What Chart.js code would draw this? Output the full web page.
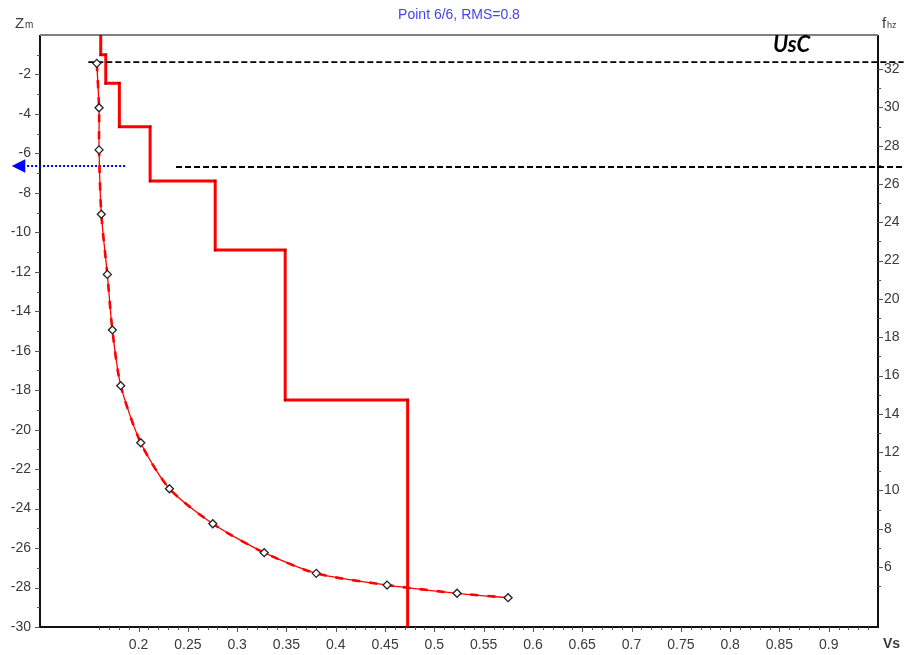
<!DOCTYPE html>
<html>
<head>
<meta charset="utf-8">
<script src="https://cdn.jsdelivr.net/npm/chart.js@4.4.1/dist/chart.umd.min.js"></script>
<style>
  html, body { margin: 0; padding: 0; background: #fff; }
  canvas { display: block; }
</style>
</head>
<body>
<canvas id="c" width="905" height="655"></canvas>
<script>
// dispersion curve: phase velocity (Vs) against frequency (right axis)
const curveVs   = [0.1576, 0.1599, 0.1599, 0.1622, 0.1683, 0.1734, 0.1819, 0.2022, 0.2313, 0.2753, 0.3274, 0.3802, 0.4520, 0.5230, 0.5748];
const curveFreq = [32.30, 29.98, 27.78, 24.42, 21.28, 18.38, 15.47, 12.49, 10.09, 8.26, 6.75, 5.67, 5.06, 4.63, 4.40];

// layered Vs profile (left axis, depth in m)
const layerVs     = [0.1616, 0.1667, 0.1805, 0.2117, 0.2777, 0.3487, 0.4729];
const layerBottom = [-1.0, -2.45, -4.65, -7.4, -10.9, -18.5, -30];

// reference lines
const usLineDepth = -1.37;
const usLineVs = [0.149, 0.976];
const lowLineDepth = -6.69;
const lowLineVs = [0.238, 0.976];
const arrowDepth = -6.64;
const arrowVs = [0.1863, 0.0805];

// tick labels
const xTickLabels = [0.2, 0.25, 0.3, 0.35, 0.4, 0.45, 0.5, 0.55, 0.6, 0.65, 0.7, 0.75, 0.8, 0.85, 0.9];
const depthTickLabels = [-2, -4, -6, -8, -10, -12, -14, -16, -18, -20, -22, -24, -26, -28, -30];
const freqTickLabels = [6, 8, 10, 12, 14, 16, 18, 20, 22, 24, 26, 28, 30, 32];

const FONT = "'Liberation Sans', Arial, sans-serif";
const TXT = '#3a3a3a';

// build step points
const stepPts = [{ x: layerVs[0], y: 0 }];
layerVs.forEach((v, i) => {
  stepPts.push({ x: v, y: layerBottom[i] });
  if (i + 1 < layerVs.length) stepPts.push({ x: layerVs[i + 1], y: layerBottom[i] });
});
const curvePts = curveVs.map((v, i) => ({ x: v, y: curveFreq[i] }));

const hasLabel = (list, v) => list.some(t => Math.abs(t - v) < 1e-6);
const range = (a, b) => { const r = []; for (let i = a; i <= b; i++) r.push(i); return r; };

const tickMarks = {
  id: 'tickMarks',
  beforeDatasetsDraw(chart) {
    const { ctx, chartArea: a } = chart;
    ctx.save();
    ctx.strokeStyle = '#111';
    ctx.lineWidth = 2;
    ctx.beginPath();
    ctx.moveTo(a.left, a.top); ctx.lineTo(a.left, a.bottom); ctx.lineTo(a.right, a.bottom); ctx.lineTo(a.right, a.top);
    ctx.stroke();
    ctx.strokeStyle = '#808080';
    ctx.beginPath(); ctx.moveTo(a.left, a.top); ctx.lineTo(a.right, a.top); ctx.stroke();
    ctx.restore();
  },
  afterDraw(chart) {
    const { ctx, chartArea: a } = chart;
    ctx.save();
    ctx.strokeStyle = '#555';
    ctx.lineWidth = 1;
    const x = chart.scales.x, y = chart.scales.y, y1 = chart.scales.y1;
    x.ticks.forEach(t => {
      const p = Math.round(x.getPixelForValue(t.value)) + 0.5;
      const len = hasLabel(xTickLabels, t.value) ? 5 : 3;
      ctx.beginPath(); ctx.moveTo(p, a.bottom); ctx.lineTo(p, a.bottom + len); ctx.stroke();
    });
    y.ticks.forEach(t => {
      const p = Math.round(y.getPixelForValue(t.value)) + 0.5;
      const len = hasLabel(depthTickLabels, t.value) ? 5 : 3;
      ctx.beginPath(); ctx.moveTo(a.left - len, p); ctx.lineTo(a.left, p); ctx.stroke();
    });
    y1.ticks.forEach(t => {
      const p = Math.round(y1.getPixelForValue(t.value)) + 0.5;
      const len = hasLabel(freqTickLabels, t.value) ? 5 : 3;
      ctx.beginPath(); ctx.moveTo(a.right, p); ctx.lineTo(a.right + len, p); ctx.stroke();
    });

    // arrow head at the end of the blue dotted line
    const tipX = x.getPixelForValue(arrowVs[1]);
    const ay = y.getPixelForValue(arrowDepth);
    const r = 9;
    ctx.fillStyle = '#0000ff';
    ctx.beginPath();
    ctx.moveTo(tipX - r, ay);
    ctx.lineTo(tipX + r * 0.5, ay - r * 0.75);
    ctx.lineTo(tipX + r * 0.5, ay + r * 0.75);
    ctx.closePath();
    ctx.fill();

    // texts
    ctx.fillStyle = '#4444ee';
    ctx.font = '14px ' + FONT;
    ctx.textAlign = 'center';
    ctx.textBaseline = 'middle';
    ctx.fillText('Point 6/6, RMS=0.8', (a.left + a.right) / 2, 15);

    ctx.fillStyle = TXT;
    ctx.textAlign = 'left';
    ctx.textBaseline = 'alphabetic';
    ctx.font = '15px ' + FONT;
    ctx.fillText('Z', 15, 28);
    ctx.font = '10px ' + FONT;
    ctx.fillText('m', 25, 28);
    ctx.font = '15px ' + FONT;
    ctx.fillText('f', 882, 28);
    ctx.font = '9px ' + FONT;
    ctx.fillText('hz', 887, 28);
    ctx.font = 'bold 14px ' + FONT;
    ctx.fillText('Vs', 883, 648);

    ctx.fillStyle = '#000';
    ctx.font = "italic bold 22px Lato, 'Open Sans', sans-serif";
    ctx.fillText('UsC', 773, 52);
    ctx.restore();
  }
};

const chart = new Chart(document.getElementById('c'), {
  type: 'scatter',
  data: {
    datasets: [
      {
        data: curvePts, yAxisID: 'y1', showLine: true, order: 0,
        borderColor: '#ff0000', borderWidth: 1.3, tension: 0.25,
        pointStyle: 'rectRot', pointRadius: 4, pointBorderColor: '#222',
        pointBackgroundColor: '#fff', pointBorderWidth: 1.3
      },
      {
        data: curvePts, yAxisID: 'y1', showLine: true, order: 1,
        borderColor: '#ff0000', borderWidth: 2.6, borderDash: [8, 9], tension: 0.25,
        pointRadius: 0
      },
      {
        data: stepPts, yAxisID: 'y', showLine: true, order: 3,
        borderColor: '#ff0000', borderWidth: 3, tension: 0,
        pointStyle: 'rect', pointRadius: 1.6, pointBackgroundColor: '#a00000', pointBorderWidth: 0
      },
      {
        data: usLineVs.map(v => ({ x: v, y: usLineDepth })), yAxisID: 'y', showLine: true, order: 2,
        borderColor: '#000', borderWidth: 1.8, borderDash: [6, 3], pointRadius: 0, clip: false
      },
      {
        data: lowLineVs.map(v => ({ x: v, y: lowLineDepth })), yAxisID: 'y', showLine: true, order: 2,
        borderColor: '#000', borderWidth: 1.8, borderDash: [6, 3], pointRadius: 0, clip: false
      },
      {
        data: arrowVs.map(v => ({ x: v, y: arrowDepth })), yAxisID: 'y', showLine: true, order: 2,
        borderColor: '#0000ff', borderWidth: 2, borderDash: [2, 2], clip: false, pointRadius: 0
      }
    ]
  },
  options: {
    responsive: false,
    animation: false,
    events: [],
    layout: { padding: { top: 35, left: 0, right: 0, bottom: 0 } },
    plugins: { legend: { display: false }, tooltip: { enabled: false }, title: { display: false } },
    scales: {
      x: {
        type: 'linear', min: 0.1, max: 0.95,
        grid: { display: false, drawTicks: false }, border: { display: false },
        afterBuildTicks: s => { s.ticks = range(16, 94).map(i => ({ value: i / 100 })); },
        afterFit: s => { s.height = 28; },
        ticks: {
          autoSkip: false, maxRotation: 0, padding: 10, color: TXT, font: { family: FONT, size: 14 },
          callback: v => hasLabel(xTickLabels, v) ? String(+v.toFixed(2)) : ''
        }
      },
      y: {
        type: 'linear', position: 'left', min: -30, max: 0,
        grid: { display: false, drawTicks: false }, border: { display: false },
        afterBuildTicks: s => { s.ticks = range(-30, -1).map(v => ({ value: v })); },
        afterFit: s => { s.width = 40; },
        ticks: {
          autoSkip: false, padding: 9, color: TXT, font: { family: FONT, size: 14 },
          callback: v => hasLabel(depthTickLabels, v) ? String(v) : ''
        }
      },
      y1: {
        type: 'linear', position: 'right', min: 2.87, max: 33.78,
        grid: { display: false, drawTicks: false }, border: { display: false },
        afterBuildTicks: s => { s.ticks = range(5, 32).map(v => ({ value: v })); },
        afterFit: s => { s.width = 27; },
        ticks: {
          autoSkip: false, padding: 6, color: TXT, font: { family: FONT, size: 14 },
          callback: v => hasLabel(freqTickLabels, v) ? String(v) : ''
        }
      }
    }
  },
  plugins: [tickMarks]
});
</script>
</body>
</html>
